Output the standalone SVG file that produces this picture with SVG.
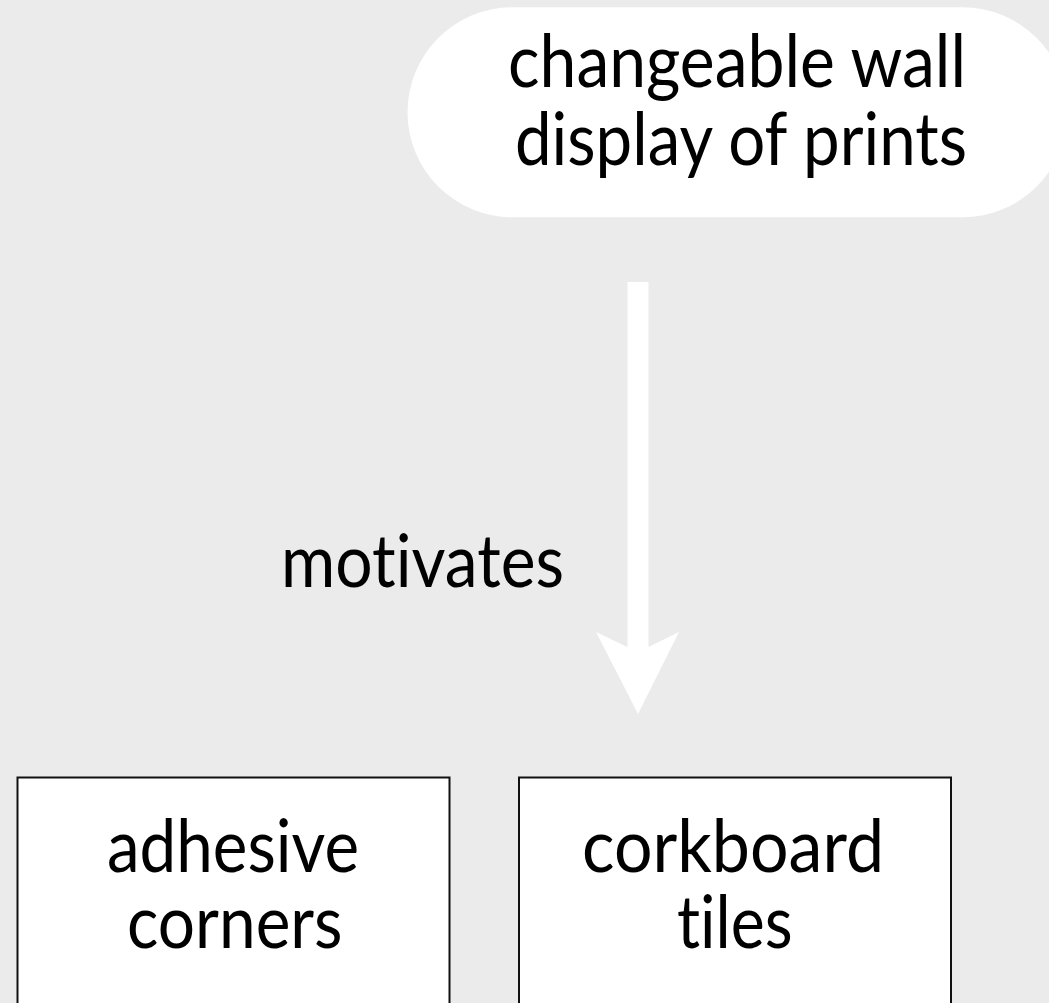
<svg xmlns="http://www.w3.org/2000/svg" width="1049" height="1003" viewBox="0 0 1049 1003">
<style>
.bg{fill:#ebebeb}
.pill{fill:#ffffff}
.box{fill:#ffffff;stroke:#111111;stroke-width:2}
.t{font-family:Lato,"Open Sans","Liberation Sans",sans-serif;font-size:73px;fill:#000000;font-variant-ligatures:none;font-feature-settings:"liga" 0,"clig" 0}
.arrow{fill:#ffffff}
</style>
<rect class="bg" x="0" y="0" width="1049" height="1003"/>
<g id="connectors">
<polygon class="arrow" points="627.5,282 648.5,282 648.5,647 679,632 638,714 596,632 627.5,647"/>
<text class="t" x="281" y="587.3" textLength="283" lengthAdjust="spacingAndGlyphs">motivates</text>
</g>
<g id="node-display">
<rect class="pill" x="407.5" y="7.3" width="660" height="210" rx="105" ry="105"/>
<text class="t" x="508" y="87.3" textLength="458" lengthAdjust="spacingAndGlyphs">changeable wall</text>
<text class="t" x="515" y="165" textLength="452" lengthAdjust="spacingAndGlyphs">display of prints</text>
</g>
<g id="node-adhesive">
<rect class="box" x="17.5" y="777.5" width="432" height="240"/>
<text class="t" x="107" y="871.7" textLength="252" lengthAdjust="spacingAndGlyphs">adhesive</text>
<text class="t" x="127" y="948.3" textLength="215.5" lengthAdjust="spacingAndGlyphs">corners</text>
</g>
<g id="node-corkboard">
<rect class="box" x="519" y="777.5" width="432" height="240"/>
<text class="t" x="582" y="871.7" textLength="302" lengthAdjust="spacingAndGlyphs">corkboard</text>
<text class="t" x="677" y="948.3" textLength="115.6" lengthAdjust="spacingAndGlyphs">tiles</text>
</g>
</svg>
